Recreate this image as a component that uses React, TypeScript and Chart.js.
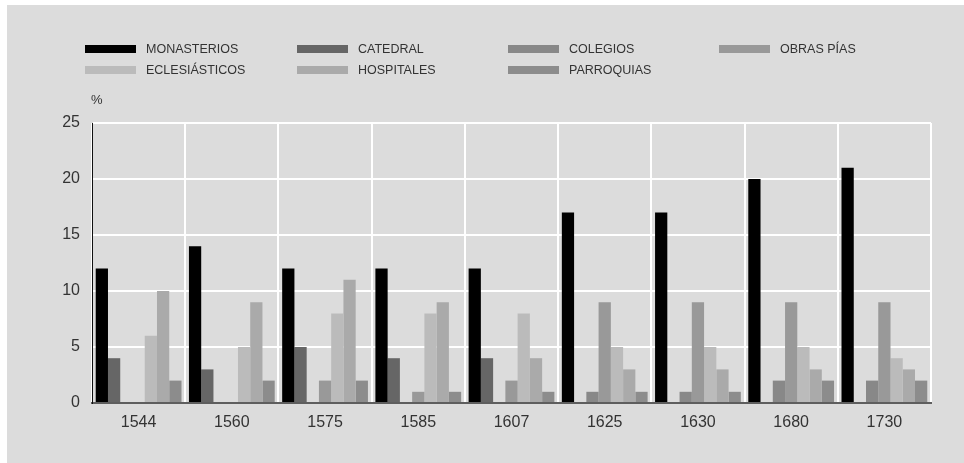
import React, { useEffect, useRef } from "react";
import { Chart, registerables } from "chart.js";

Chart.register(...registerables);

const years = ["1544", "1560", "1575", "1585", "1607", "1625", "1630", "1680", "1730"];
const monasterios = [12, 14, 12, 12, 12, 17, 17, 20, 21];
const catedral = [4, 3, 5, 4, 4, 0, 0, 0, 0];
const colegios = [0, 0, 0, 0, 0, 1, 1, 2, 2];
const obrasPias = [0, 0, 2, 1, 2, 9, 9, 9, 9];
const eclesiasticos = [6, 5, 8, 8, 8, 5, 5, 5, 4];
const hospitales = [10, 9, 11, 9, 4, 3, 3, 3, 3];
const parroquias = [2, 2, 2, 1, 1, 1, 1, 2, 2];
const seriesNames = ["MONASTERIOS", "CATEDRAL", "COLEGIOS", "OBRAS PÍAS", "ECLESIÁSTICOS", "HOSPITALES", "PARROQUIAS"];
const seriesValues = [monasterios, catedral, colegios, obrasPias, eclesiasticos, hospitales, parroquias];
const seriesColors = ["#000000", "#666666", "#888888", "#999999", "#bbbbbb", "#aaaaaa", "#8c8c8c"];
const yMin = 0;
const yMax = 25;
const yStep = 5;
const unitLabel = "%";

const FONT = '"Liberation Sans", Arial, Helvetica, sans-serif';
const legendCols = [85, 297, 508, 719];
const legendRows = [49, 70];

export default function App() {
  const canvasRef = useRef<HTMLCanvasElement | null>(null);

  useEffect(() => {
    const canvas = canvasRef.current;
    if (!canvas) return;
    const chart = new Chart(canvas, {
      type: "bar",
      data: {
        labels: years,
        datasets: seriesNames.map((name, i) => ({
          label: name,
          data: seriesValues[i],
          backgroundColor: seriesColors[i],
          borderWidth: 0,
          categoryPercentage: 0.92,
          barPercentage: 1,
        })),
      },
      options: {
        animation: false,
        responsive: false,
        maintainAspectRatio: false,
        layout: { padding: { left: 0, top: 123, right: 33, bottom: 0 } },
        plugins: {
          legend: { display: false },
          tooltip: { enabled: false },
        },
        scales: {
          x: {
            grid: { color: "#ffffff", lineWidth: 2, drawTicks: false, offset: true },
            border: { color: "#5e5e5e", width: 2 },
            ticks: { color: "#333333", font: { family: FONT, size: 16 }, padding: 10 },
            afterFit: (s: any) => {
              s.height = 60;
            },
          },
          y: {
            min: yMin,
            max: yMax,
            grid: { color: "#ffffff", lineWidth: 2, drawTicks: false },
            border: { color: "#111111", width: 1 },
            ticks: { stepSize: yStep, color: "#333333", font: { family: FONT, size: 16 }, padding: 12 },
            afterFit: (s: any) => {
              s.width = 92;
            },
          },
        },
      },
    });
    return () => chart.destroy();
  }, []);

  return (
    <div style={{ position: "fixed", left: 0, top: 0, width: 964, height: 463, background: "#ffffff", overflow: "hidden" }}>
      <div style={{ position: "absolute", left: 7, top: 5, right: 0, bottom: 0, background: "#dcdcdc" }} />
      <canvas ref={canvasRef} width={964} height={463} style={{ position: "absolute", left: 0, top: 0, width: 964, height: 463 }} />
      {seriesNames.map((name, i) => (
        <div
          key={name}
          style={{
            position: "absolute",
            left: legendCols[i % 4],
            top: legendRows[Math.floor(i / 4)] - 8,
            height: 16,
            display: "flex",
            alignItems: "center",
            fontFamily: FONT,
            fontSize: 12.5,
            color: "#333333",
            whiteSpace: "nowrap",
          }}
        >
          <span style={{ display: "inline-block", width: 51, height: 8, background: seriesColors[i], marginRight: 10 }} />
          <span>{name}</span>
        </div>
      ))}
      <div style={{ position: "absolute", left: 91, top: 92, fontFamily: FONT, fontSize: 13, color: "#333333" }}>{unitLabel}</div>
    </div>
  );
}
